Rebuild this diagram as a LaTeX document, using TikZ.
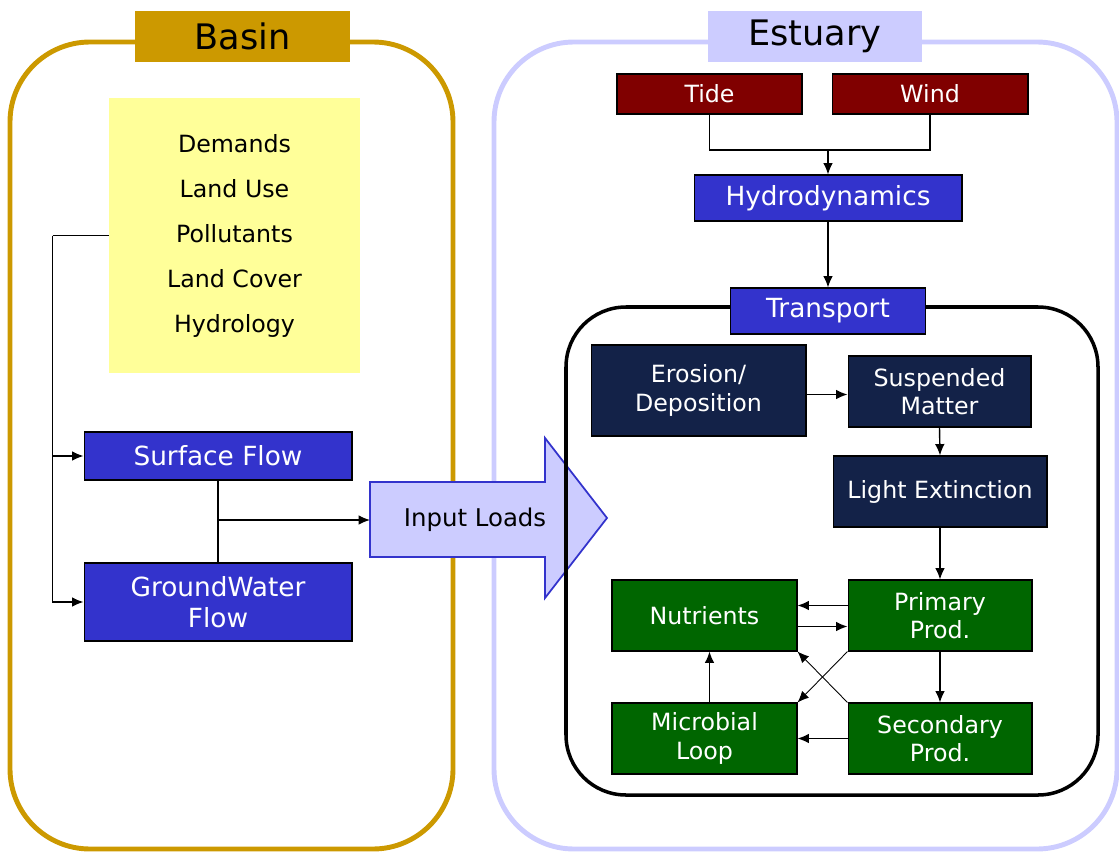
\documentclass[tikz,border=0pt]{standalone}
\usepackage{fontspec}
\setmainfont{DejaVu Sans}
\usetikzlibrary{arrows.meta,calc}

\definecolor{basingold}{RGB}{204,153,0}
\definecolor{estlav}{RGB}{204,204,255}
\definecolor{noteyellow}{RGB}{255,255,153}
\definecolor{flowblue}{RGB}{51,51,204}
\definecolor{forcered}{RGB}{128,0,0}
\definecolor{sednavy}{RGB}{19,34,72}
\definecolor{ecogreen}{RGB}{0,102,0}

\begin{document}
\begin{tikzpicture}[x=0.02cm,y=-0.02cm,
  unitbox/.style={draw=black,line width=0.6pt,text=white,align=center,inner sep=0pt},
  bluebox/.style={unitbox,fill=flowblue,font=\fontsize{15}{18}\selectfont},
  redbox/.style={unitbox,fill=forcered,minimum height=0.8cm,font=\fontsize{13.5}{16}\selectfont},
  navybox/.style={unitbox,fill=sednavy,minimum height=1.42cm,font=\fontsize{13.5}{16}\selectfont},
  greenbox/.style={unitbox,fill=ecogreen,minimum height=1.42cm,font=\fontsize{13.5}{16}\selectfont},
  headbox/.style={inner sep=0pt,minimum height=1.02cm,font=\fontsize{20}{22}\selectfont},
  link/.style={line width=0.8pt},
  arr/.style={link,-{Latex[length=6.5pt,width=5.5pt]}}]
\useasboundingbox (0,0) rectangle (1119,852);

% the two panels
\draw[basingold,line width=2.8pt,rounded corners=1.6cm] (10,42) rectangle (453,849);
\draw[estlav,line width=2.8pt,rounded corners=1.6cm] (494,42) rectangle (1117,849);
\node[headbox,fill=basingold,minimum width=4.3cm] (basin) at (242.5,36.5) {Basin};
\node[headbox,fill=estlav,minimum width=4.28cm] (estuary) at (815,36.5) {Estuary};

% big arrow between the panels
\draw[fill=estlav,draw=flowblue,line width=1pt] (370,482) -- (545,482) -- (545,438) -- (607,518)
  -- (545,598) -- (545,557) -- (370,557) -- cycle;
\node[font=\fontsize{13.9}{16}\selectfont] (loads) at (475,520) {Input Loads};
\coordinate (loadsin) at (370,520);

% transport frame
\draw[line width=2pt,rounded corners=1.2cm] (566,307) rectangle (1098,795);

% basin side
\node[fill=noteyellow,minimum width=5.02cm,minimum height=5.5cm,align=center,
  font=\fontsize{13.5}{25.6}\selectfont] (drivers) at (234.5,235.5)
  {Demands\\Land Use\\Pollutants\\Land Cover\\Hydrology};
\node[bluebox,minimum width=5.36cm,minimum height=0.96cm] (surface) at (218,456) {Surface Flow};
\node[bluebox,minimum width=5.36cm,minimum height=1.56cm] (ground) at (218,602) {GroundWater\\Flow};

\coordinate (bus) at ($(drivers.west)+(-56,0)$);
\draw[link] (drivers.west) -- (bus);
\draw[arr] (bus) |- (surface.west);
\draw[arr] (bus) |- (ground.west);
\coordinate (merge) at (218,520);
\draw[link] (surface.south) -- (merge) -- (ground.north);
\draw[arr] (merge) -- (loadsin);

% estuary side
\node[redbox,minimum width=3.7cm] (tide) at (709.5,94) {Tide};
\node[redbox,minimum width=3.92cm] (wind) at (930,94) {Wind};
\node[bluebox,minimum width=5.36cm,minimum height=0.92cm] (hydro) at (828,198) {Hydrodynamics};
\node[bluebox,minimum width=3.9cm,minimum height=0.92cm] (transport) at (828,311) {Transport};

\coordinate (forcing) at (828,150);
\draw[link] (tide.south) |- (forcing) -| (wind.south);
\draw[arr] (forcing) -- (hydro.north);
\draw[arr] (hydro.south) -- (transport.north);

\node[navybox,minimum width=4.3cm,minimum height=1.82cm] (erosion) at (698.5,390.5) {Erosion/\\Deposition};
\node[navybox,minimum width=3.66cm] (suspended) at (939.5,391.5) {Suspended\\Matter};
\node[navybox,minimum width=4.28cm] (light) at (940,491.5) {Light Extinction};

\node[greenbox,minimum width=3.7cm] (nutrients) at (704.5,615.5) {Nutrients};
\node[greenbox,minimum width=3.68cm] (primary) at (940,615.5) {Primary\\Prod.};
\node[greenbox,minimum width=3.7cm] (microbial) at (704.5,738.5) {Microbial\\Loop};
\node[greenbox,minimum width=3.68cm] (secondary) at (940,738.5) {Secondary\\Prod.};

\draw[arr] ($(erosion.east)+(0,4)$) -- ($(erosion.east -| suspended.west)+(0,4)$);
\draw[arr] (suspended.south) -- (light.north);
\draw[arr] (light.south) -- (primary.north);
\draw[arr] ($(primary.west)+(0,-10)$) -- ($(nutrients.east)+(0,-10)$);
\draw[arr] ($(nutrients.east)+(0,11)$) -- ($(primary.west)+(0,11)$);
\draw[arr] (primary.south) -- (secondary.north);
\draw[arr] (secondary.west) -- (microbial.east);
\draw[arr] ($(microbial.north)+(5,0)$) -- ($(nutrients.south)+(5,0)$);
\draw[arr,line width=0.5pt] (primary.south west) -- (microbial.north east);
\draw[arr,line width=0.5pt] (secondary.north west) -- (nutrients.south east);
\end{tikzpicture}
\end{document}
